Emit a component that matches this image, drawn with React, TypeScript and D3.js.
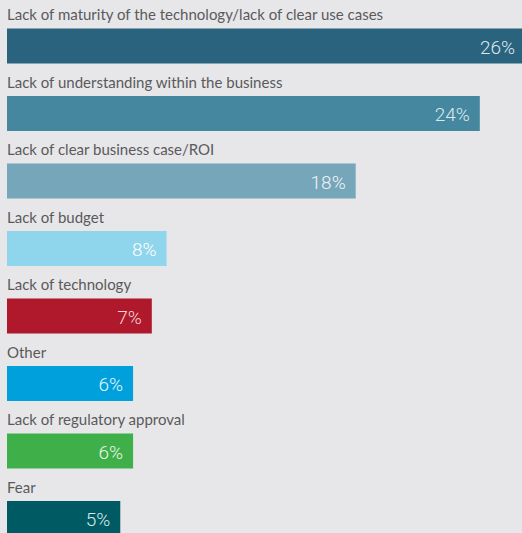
import React, { useEffect } from "react";
import * as d3 from "d3";

const categories = [
  "Lack of maturity of the technology/lack of clear use cases",
  "Lack of understanding within the business",
  "Lack of clear business case/ROI",
  "Lack of budget",
  "Lack of technology",
  "Other",
  "Lack of regulatory approval",
  "Fear",
];
const values = [26.3, 24.0, 17.7, 8.1, 7.35, 6.4, 6.4, 5.75];
const valueLabels = ["26%", "24%", "18%", "8%", "7%", "6%", "6%", "5%"];
const colors = ["#29637e", "#44879f", "#76a6ba", "#8fd5ec", "#b0182c", "#00a0dc", "#3faf4a", "#005a63"];
const labelColors = ["#dce8ee", "#dce8ee", "#eef4f7", "#ffffff", "#f3d6da", "#e6f5fb", "#e8f5e8", "#d8e8ea"];

const W = 522;
const H = 533;

export default function App() {
  useEffect(() => {
    document.body.style.margin = "0";
  }, []);

  const x = d3.scaleLinear().domain([0, 1]).range([7, 7 + 19.7]);
  const yb = d3.scaleLinear().domain([0, 1]).range([28.5, 28.5 + 67.5]);
  const bh = 35;

  return (
    <svg width={W} height={H} style={{ display: "block", background: "#e7e7e9" }}>
      <rect x={0} y={0} width={W} height={H} fill="#e7e7e9" />
      {categories.map((c, i) => {
        const top = yb(i);
        const x1 = x(values[i]);
        return (
          <g key={c}>
            <text
              x={7}
              y={top - 8.5}
              fontFamily="Lato, 'Open Sans', sans-serif"
              fontSize={15}
              fill="#5a5a5c"
            >
              {c}
            </text>
            <rect x={x(0)} y={top} width={x1 - x(0)} height={bh} fill={colors[i]} />
            <text
              x={x1 - 10}
              y={top + bh / 2 + 7.5}
              textAnchor="end"
              fontFamily="Roboto, Lato, sans-serif"
              fontWeight={300}
              fontSize={19}
              fill={labelColors[i]}
            >
              {valueLabels[i]}
            </text>
          </g>
        );
      })}
    </svg>
  );
}
